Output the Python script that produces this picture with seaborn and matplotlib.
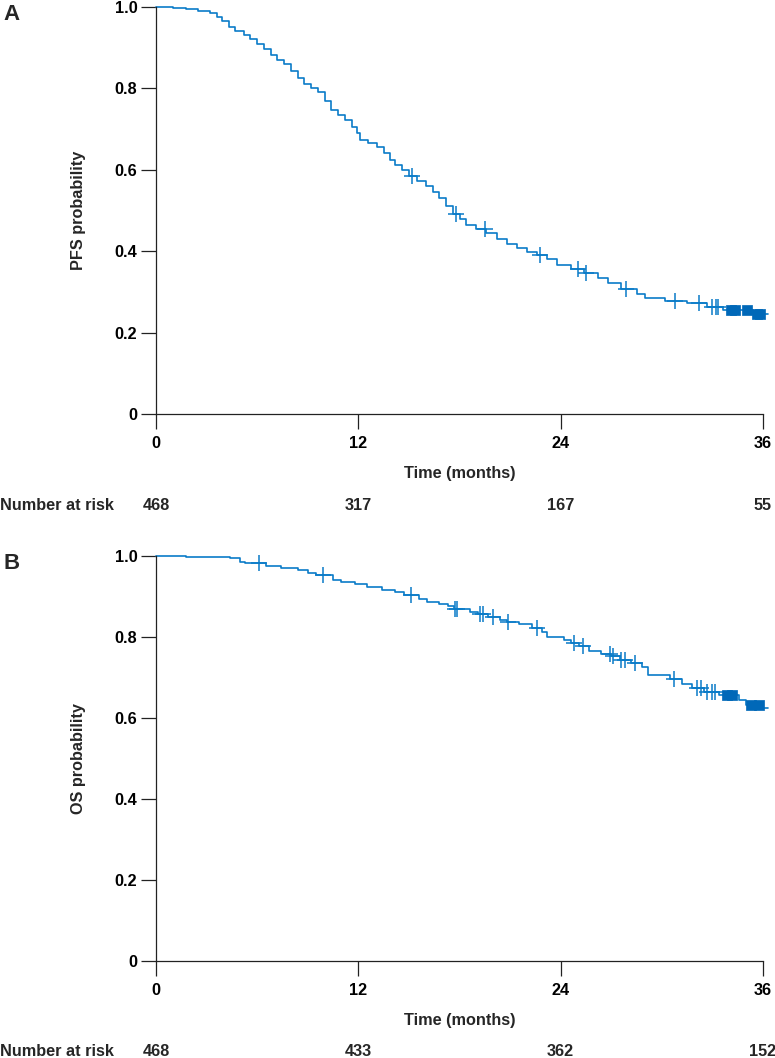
import numpy as np
import pandas as pd
import seaborn as sns
import matplotlib.pyplot as plt
import matplotlib.transforms as mtransforms

# ---- data ----
pfs_time = [0, 1.0, 1.8, 2.5, 3.2, 3.6, 3.9, 4.3, 4.7, 5.2, 5.6, 6.0, 6.4, 6.8, 7.2, 7.6,
            8.0, 8.4, 8.8, 9.2, 9.6, 10.0, 10.4, 10.8, 11.2, 11.6, 11.9, 12.1, 12.6, 13.1,
            13.5, 13.9, 14.2, 14.6, 15.0, 15.5, 16.0, 16.4, 16.8, 17.2, 17.6, 18.0, 18.4,
            19.0, 19.6, 20.2, 20.8, 21.4, 22.0, 22.6, 23.2, 23.8, 24.6, 25.4, 26.2, 26.8,
            27.6, 28.5, 29.0, 30.2, 31.5, 32.7, 33.6, 35.4, 36.3]
pfs_surv = [1.0, 0.998, 0.995, 0.990, 0.985, 0.975, 0.965, 0.952, 0.940, 0.930, 0.922, 0.910,
            0.896, 0.882, 0.870, 0.860, 0.842, 0.826, 0.812, 0.800, 0.790, 0.770, 0.748,
            0.735, 0.722, 0.705, 0.690, 0.672, 0.665, 0.655, 0.642, 0.625, 0.612, 0.600,
            0.585, 0.572, 0.560, 0.545, 0.530, 0.510, 0.492, 0.478, 0.465, 0.455, 0.444,
            0.430, 0.418, 0.408, 0.398, 0.390, 0.380, 0.365, 0.357, 0.347, 0.334, 0.322,
            0.308, 0.295, 0.286, 0.278, 0.273, 0.264, 0.256, 0.245, 0.245]
pfs_censor = [15.2, 17.8, 19.5, 22.8, 25.0, 25.5, 27.9, 30.8, 32.2, 33.0, 33.2, 33.35]
pfs_dense = [34.1, 34.35, 35.05, 35.65, 35.85]
pfs_risk = [468, 317, 167, 55]

os_time = [0, 1.8, 4.4, 5.0, 5.3, 6.5, 7.4, 8.4, 9.0, 9.5, 10.5, 11.0, 11.8, 12.5, 13.4, 14.2,
           14.7, 15.6, 16.1, 16.8, 17.3, 17.7, 18.6, 19.1, 19.7, 20.4, 20.8, 21.5, 22.3,
           22.9, 23.2, 24.2, 24.6, 25.1, 25.7, 26.4, 27.0, 27.5, 28.2, 28.8, 29.2, 30.5,
           31.2, 31.8, 32.5, 33.4, 34.6, 35.0, 35.8, 36.3]
os_surv = [1.0, 0.998, 0.994, 0.985, 0.982, 0.975, 0.971, 0.966, 0.958, 0.953, 0.940, 0.935,
           0.930, 0.924, 0.916, 0.910, 0.903, 0.895, 0.887, 0.882, 0.876, 0.868, 0.862,
           0.856, 0.850, 0.842, 0.836, 0.831, 0.823, 0.812, 0.800, 0.793, 0.785, 0.777,
           0.766, 0.758, 0.753, 0.743, 0.735, 0.725, 0.707, 0.696, 0.683, 0.674, 0.665,
           0.657, 0.644, 0.632, 0.625, 0.625]
os_censor = [6.1, 9.9, 15.1, 17.75, 17.85, 19.2, 19.4, 20.0, 20.9, 22.6, 24.8, 25.3, 26.9,
             27.1, 27.6, 27.8, 28.4, 30.7, 32.1, 32.3, 32.7, 33.0, 33.15]
os_dense = [33.85, 34.15, 35.3, 35.75]
os_risk = [468, 433, 362, 152]

x_ticks = [0, 12, 24, 36]
y_ticks = [0, 0.2, 0.4, 0.6, 0.8, 1.0]
y_ticklabels = ["0", "0.2", "0.4", "0.6", "0.8", "1.0"]

blue = "#0A7BC8"
dark_blue = "#0068B8"
fs = 11.7

sns.set_theme(style="ticks")
plt.rcParams["font.family"] = ["Liberation Sans", "DejaVu Sans"]
plt.rcParams["font.weight"] = "bold"
plt.rcParams["axes.labelweight"] = "bold"

fig = plt.figure(figsize=(7.75, 10.58), dpi=100)
W, H = 775, 1058


def km_panel(rect, times, surv, censor, dense, risk, ylabel, letter):
    ax = fig.add_axes(rect)
    df = pd.DataFrame({"t": times, "s": surv})
    sns.lineplot(data=df, x="t", y="s", drawstyle="steps-post", estimator=None,
                 color=blue, linewidth=1.2, ax=ax, clip_on=False)

    t_arr = np.array(times)
    s_arr = np.array(surv)
    idx = np.searchsorted(t_arr, censor, side="right") - 1
    cdf = pd.DataFrame({"t": censor, "s": s_arr[idx]})
    sns.scatterplot(data=cdf, x="t", y="s", marker="+", s=130, color=blue,
                    linewidth=1.1, ax=ax, clip_on=False, zorder=3)
    idx = np.searchsorted(t_arr, dense, side="right") - 1
    ddf = pd.DataFrame({"t": dense, "s": s_arr[idx]})
    sns.scatterplot(data=ddf, x="t", y="s", marker="s", s=60, color=dark_blue,
                    edgecolor=dark_blue, linewidth=0.5, ax=ax, clip_on=False, zorder=3)

    ax.set_xlim(0, 36)
    ax.set_ylim(0, 1.0)
    ax.set_xticks(x_ticks)
    ax.set_yticks(y_ticks)
    ax.set_yticklabels(y_ticklabels)
    sns.despine(ax=ax)
    for sp in ["left", "bottom"]:
        ax.spines[sp].set_linewidth(0.9)
        ax.spines[sp].set_color("#222222")
    ax.tick_params(axis="both", direction="out", length=11, width=0.9, color="#222222",
                   labelsize=fs, labelcolor="black")
    ax.tick_params(axis="x", pad=4.5)
    ax.tick_params(axis="y", pad=2.5)
    for lab in ax.get_xticklabels() + ax.get_yticklabels():
        lab.set_fontweight("bold")

    ax.set_xlabel("Time (months)", fontsize=fs, fontweight="bold")
    ax.xaxis.label.set_va("center")
    ax.xaxis.set_label_coords(0.5, -0.147)
    ax.set_ylabel(ylabel, fontsize=fs, fontweight="bold")
    ax.yaxis.label.set_va("center")
    ax.yaxis.set_label_coords(-0.1285, 0.5)

    trans = mtransforms.blended_transform_factory(ax.transData, ax.transAxes)
    for x, n in zip(x_ticks, risk):
        ax.text(x, -0.224, str(n), transform=trans, ha="center", va="center",
                fontsize=fs, fontweight="bold")
    ax.text(-0.257, -0.224, "Number at risk", transform=ax.transAxes, ha="left",
            va="center", fontsize=fs, fontweight="bold")
    ax.text(-0.238, 1.0 - 8 / 407, letter, transform=ax.transAxes, ha="center",
            va="center", fontsize=16, fontweight="bold")
    return ax


left = 156 / W
width = (763 - 156) / W
km_panel([left, 1 - 414 / H, width, (414 - 7) / H], pfs_time, pfs_surv, pfs_censor,
         pfs_dense, pfs_risk, "PFS probability", "A")
km_panel([left, 1 - 961 / H, width, (961 - 556) / H], os_time, os_surv, os_censor,
         os_dense, os_risk, "OS probability", "B")

fig.savefig("out.png", dpi=100)
